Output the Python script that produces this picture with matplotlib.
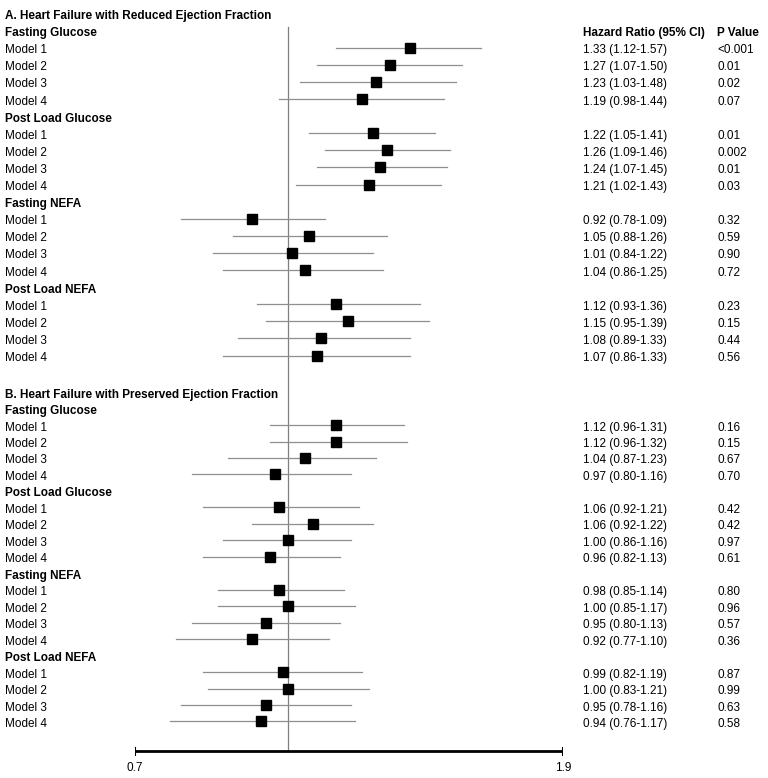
import numpy as np
import matplotlib.pyplot as plt
import matplotlib.transforms as mtransforms

plt.rcParams['font.family'] = ['Liberation Sans', 'DejaVu Sans']

# data
sections = ['A. Heart Failure with Reduced Ejection Fraction',
            'B. Heart Failure with Preserved Ejection Fraction']
groups = ['Fasting Glucose', 'Post Load Glucose', 'Fasting NEFA', 'Post Load NEFA']
models = ['Model 1', 'Model 2', 'Model 3', 'Model 4']

# hazard ratios and CIs as drawn (4 groups x 4 models)
hr_a = [1.33, 1.27, 1.23, 1.19, 1.22, 1.26, 1.24, 1.21,
        0.92, 1.05, 1.01, 1.04, 1.12, 1.15, 1.08, 1.07]
lo_a = [1.12, 1.07, 1.03, 0.98, 1.05, 1.09, 1.07, 1.02,
        0.78, 0.88, 0.84, 0.86, 0.93, 0.95, 0.89, 0.86]
hi_a = [1.57, 1.50, 1.48, 1.44, 1.41, 1.46, 1.45, 1.43,
        1.09, 1.26, 1.22, 1.25, 1.36, 1.39, 1.33, 1.33]

hr_b = [1.12, 1.12, 1.04, 0.97, 0.98, 1.06, 1.00, 0.96,
        0.98, 1.00, 0.95, 0.92, 0.99, 1.00, 0.95, 0.94]
lo_b = [0.96, 0.96, 0.87, 0.80, 0.82, 0.92, 0.86, 0.82,
        0.85, 0.85, 0.80, 0.77, 0.82, 0.83, 0.78, 0.76]
hi_b = [1.31, 1.32, 1.23, 1.16, 1.18, 1.22, 1.16, 1.13,
        1.14, 1.17, 1.13, 1.10, 1.19, 1.21, 1.16, 1.17]

# table text
ci_text_a = ['1.33 (1.12-1.57)', '1.27 (1.07-1.50)', '1.23 (1.03-1.48)', '1.19 (0.98-1.44)',
             '1.22 (1.05-1.41)', '1.26 (1.09-1.46)', '1.24 (1.07-1.45)', '1.21 (1.02-1.43)',
             '0.92 (0.78-1.09)', '1.05 (0.88-1.26)', '1.01 (0.84-1.22)', '1.04 (0.86-1.25)',
             '1.12 (0.93-1.36)', '1.15 (0.95-1.39)', '1.08 (0.89-1.33)', '1.07 (0.86-1.33)']
p_a = ['<0.001', '0.01', '0.02', '0.07', '0.01', '0.002', '0.01', '0.03',
       '0.32', '0.59', '0.90', '0.72', '0.23', '0.15', '0.44', '0.56']
ci_text_b = ['1.12 (0.96-1.31)', '1.12 (0.96-1.32)', '1.04 (0.87-1.23)', '0.97 (0.80-1.16)',
             '1.06 (0.92-1.21)', '1.06 (0.92-1.22)', '1.00 (0.86-1.16)', '0.96 (0.82-1.13)',
             '0.98 (0.85-1.14)', '1.00 (0.85-1.17)', '0.95 (0.80-1.13)', '0.92 (0.77-1.10)',
             '0.99 (0.82-1.19)', '1.00 (0.83-1.21)', '0.95 (0.78-1.16)', '0.94 (0.76-1.17)']
p_b = ['0.16', '0.15', '0.67', '0.70', '0.42', '0.42', '0.97', '0.61',
       '0.80', '0.96', '0.57', '0.36', '0.87', '0.99', '0.63', '0.58']

x_min, x_max = 0.7, 1.9

W, H = 768, 778
fig = plt.figure(figsize=(W / 100, H / 100), dpi=100)
ax = fig.add_axes([134.7 / W, 0, (563 - 134.7) / W, 1])
ax.set_xscale('log')
ax.set_xlim(x_min, x_max)
ax.set_ylim(H, 0)
ax.axis('off')

trans = mtransforms.blended_transform_factory(fig.transFigure, ax.transData)
fs = 8.5
x_left, x_ci, x_p = 5 / W, 583 / W, 717 / W
base = 4.3  # baseline offset so cap height is centred on the row


def label(x, y, s, bold=False):
    ax.text(x, y + base, s, transform=trans, fontsize=fs, va='baseline',
            fontweight='bold' if bold else 'normal')


blocks = [(sections[0], hr_a, lo_a, hi_a, ci_text_a, p_a, 14.7, 17.1),
          (sections[1], hr_b, lo_b, hi_b, ci_text_b, p_b, 393.3, 16.47)]

for title, hr, lo, hi, ci_txt, pv, y0, step in blocks:
    label(x_left, y0, title, bold=True)
    for g, grp in enumerate(groups):
        yg = y0 + step * (1 + 5 * g)
        label(x_left, yg, grp, bold=True)
        if title == sections[0] and g == 0:
            label(x_ci, yg, 'Hazard Ratio (95% CI)', bold=True)
            label(x_p, yg, 'P Value', bold=True)
        for m, mod in enumerate(models):
            i = 4 * g + m
            y = yg + step * (m + 1)
            label(x_left, y, mod)
            label(x_ci, y, ci_txt[i])
            label(x_p, y, pv[i])
            ym = y - 1.2
            ax.plot([lo[i], hi[i]], [ym, ym], color='#8f8f8f', lw=0.9, zorder=2)
            ax.plot(hr[i], ym, 's', ms=7.3, color='black', zorder=3)

# reference line and axis
axis_y = 751
ax.plot([1.0, 1.0], [26.7, axis_y], color='#7f7f7f', lw=0.9, zorder=1)
ax.plot([x_min, x_max], [axis_y, axis_y], color='black', lw=2, solid_capstyle='butt')
for xv, lab in [(x_min, '0.7'), (x_max, '1.9')]:
    ax.plot([xv, xv], [axis_y - 3.5, axis_y + 3.5], color='black', lw=1.5)
    ax.text(xv, 767 + base, lab, fontsize=fs, ha='center', va='baseline')

fig.savefig('out.png', dpi=100, facecolor='white')
